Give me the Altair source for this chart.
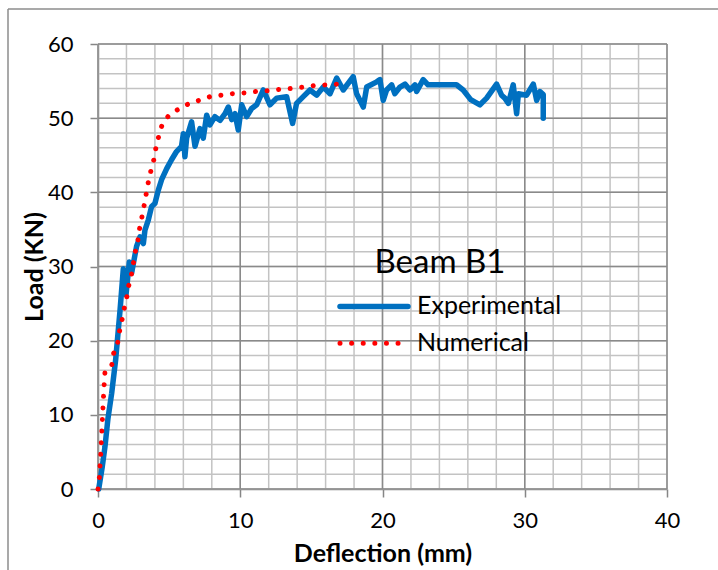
import altair as alt
import pandas as pd

# ---------------- data ----------------
exp_x = [0.05, 0.3, 0.49, 0.7, 0.96, 1.24, 1.55, 1.78, 1.97, 2.2, 2.36, 2.71, 2.95, 3.19, 3.3,
         3.54, 3.77, 4.0, 4.24, 4.47, 4.83, 5.17, 5.52, 5.87, 6.0, 6.11, 6.23, 6.58, 6.82, 7.17,
         7.4, 7.64, 7.87, 8.22, 8.58, 8.93, 9.16, 9.4, 9.63, 9.86, 10.1, 10.45, 10.8, 11.15, 11.62,
         12.09, 12.56, 13.26, 13.68, 13.96, 14.43, 14.9, 15.37, 15.84, 16.31, 16.78, 17.24, 17.94,
         18.18, 18.65, 18.89, 19.59, 19.82, 20.05, 20.29, 20.64, 20.87, 21.23, 21.58, 21.93, 22.28,
         22.4, 22.86, 23.2, 25.2, 25.67, 26.2, 26.85, 27.32, 28.02, 28.37, 28.6, 28.85, 29.19,
         29.43, 29.55, 30.13, 30.6, 30.84, 31.07, 31.3, 31.3]
exp_y = [0, 3, 5.7, 9.5, 12.9, 17.4, 24.1, 29.7, 26.2, 30.6, 29.1, 32.7, 34.0, 33.1, 34.9,
         36.3, 38.1, 38.5, 40.3, 41.7, 43.2, 44.4, 45.5, 46.2, 47.9, 44.8, 47.3, 49.5, 46.2, 48.6,
         47.3, 50.4, 49.1, 50.2, 49.7, 50.6, 51.5, 49.8, 50.6, 48.4, 51.8, 50.2, 51.3, 51.8, 53.8,
         51.8, 52.7, 52.9, 49.3, 52.0, 52.9, 53.8, 53.1, 54.2, 53.3, 55.4, 53.8, 55.6,
         53.3, 51.5, 54.2, 54.9, 55.2, 52.4, 53.8, 54.5, 53.3, 54.2, 54.6, 53.8, 54.5,
         53.6, 55.2, 54.5, 54.5, 53.8, 52.5, 51.8, 52.7, 54.6, 53.1, 52.7, 52.0, 54.5,
         50.6, 53.3, 53.1, 54.6, 52.4, 53.6, 53.2, 50.0]

num_x = [0, 0.1, 0.2, 0.3, 0.4, 0.49, 0.96, 1.08, 1.36, 1.48, 1.66, 1.8, 2.0, 2.13, 2.32, 2.48,
         2.6, 2.79, 2.9, 3.07, 3.23, 3.37, 3.54, 3.73, 3.94, 4.08, 4.29, 4.52, 4.99, 5.65, 6.34,
         7.1, 7.87, 8.65, 9.44, 10.28, 11.15, 11.97, 12.8, 13.6, 14.43, 15.25, 16.07, 16.9]
num_y = [0, 1.6, 5, 9, 13, 15.8, 16.6, 18.2, 19.4, 21, 22.5, 24, 25.6, 27.2, 28.6, 30.3,
         31.8, 33.3, 34.9, 36.5, 38.1, 39.6, 41.4, 43.0, 44.5, 46.1, 47.7, 49.2, 50.4, 51.2, 51.9,
         52.4, 52.9, 53.1, 53.3, 53.4, 53.6, 53.7, 53.9, 54.0, 54.2, 54.4, 54.5, 54.6]

x_ticks = [0, 10, 20, 30, 40]
y_ticks = [0, 10, 20, 30, 40, 50, 60]
x_minor = list(range(0, 41, 2))
y_minor = list(range(0, 61, 2))

legend_title = ["Beam B1"]
series_names = ["Experimental", "Numerical"]

# ---------------- styling ----------------
BLUE = "#0070C0"
RED = "#FF0000"
FONT = "Lato"
W, H = 569, 445
L0, T0 = 98, 44

xs = alt.Scale(domain=[0, 40], nice=False, zero=False)
ys = alt.Scale(domain=[0, 60], nice=False, zero=False)

x_axis = alt.Axis(values=x_ticks, grid=False, domainColor="#868686", domainWidth=1.5,
                  tickColor="#868686", tickSize=8, tickWidth=1.5,
                  labelFont=FONT, labelFontSize=22, labelColor="black", labelPadding=13,
                  labelFlush=False,
                  title="Deflection (mm)", titleFont=FONT, titleFontSize=25,
                  titleFontWeight="bold", titleColor="black",
                  titleY=72, titleBaseline="alphabetic")
y_axis = alt.Axis(values=y_ticks, grid=False, domainColor="#868686", domainWidth=1.5,
                  tickColor="#868686", tickSize=8, tickWidth=1.5,
                  labelFont=FONT, labelFontSize=22, labelColor="black", labelPadding=17,
                  labelFlush=False,
                  title="Load (KN)", titleFont=FONT, titleFontSize=25,
                  titleFontWeight="bold", titleColor="black",
                  titleX=-56, titleAngle=-90, titleBaseline="alphabetic")


def X(field="x"):
    return alt.X(f"{field}:Q", scale=xs, axis=x_axis)


def Y(field="y"):
    return alt.Y(f"{field}:Q", scale=ys, axis=y_axis)


exp_df = pd.DataFrame({"x": exp_x, "y": exp_y, "i": range(len(exp_x))})
num_df = pd.DataFrame({"x": num_x, "y": num_y, "i": range(len(num_x))})

minor_v = alt.Chart(pd.DataFrame({"x": x_minor})).mark_rule(
    color="#c3c3c3", strokeWidth=1.5).encode(x=X())
minor_h = alt.Chart(pd.DataFrame({"y": y_minor})).mark_rule(
    color="#c3c3c3", strokeWidth=1.5).encode(y=Y())
major_v = alt.Chart(pd.DataFrame({"x": x_ticks})).mark_rule(
    color="#8a8a8a", strokeWidth=1.5).encode(x=X())
major_h = alt.Chart(pd.DataFrame({"y": y_ticks})).mark_rule(
    color="#8a8a8a", strokeWidth=1.5).encode(y=Y())

exp_line = alt.Chart(exp_df).mark_line(
    color=BLUE, strokeWidth=5.5, strokeJoin="round", strokeCap="round").encode(
    x=X(), y=Y(), order="i:Q")

num_line = alt.Chart(num_df).mark_line(
    color=RED, strokeWidth=5, strokeDash=[0.01, 11.6], strokeCap="round").encode(
    x=X(), y=Y(), order="i:Q")

# ---------------- legend (inside plot) ----------------
leg_title = alt.Chart(pd.DataFrame({"t": legend_title})).mark_text(
    font=FONT, fontSize=33, align="center", baseline="middle", color="black").encode(
    text="t:N", x=alt.value(440 - L0), y=alt.value(263 - T0))

leg_exp_line = alt.Chart(pd.DataFrame({"t": [series_names[0]]})).mark_rule(
    color=BLUE, strokeWidth=5.5, strokeCap="round").encode(
    x=alt.value(340 - L0), x2=alt.value(408 - L0), y=alt.value(306.5 - T0))
leg_num_line = alt.Chart(pd.DataFrame({"t": [series_names[1]]})).mark_rule(
    color=RED, strokeWidth=5, strokeDash=[0.01, 11.6], strokeCap="round").encode(
    x=alt.value(340 - L0), x2=alt.value(403 - L0), y=alt.value(343.3 - T0))

leg_exp_text = alt.Chart(pd.DataFrame({"t": [series_names[0]]})).mark_text(
    font=FONT, fontSize=25, align="left", baseline="middle", color="black").encode(
    text="t:N", x=alt.value(417 - L0), y=alt.value(306 - T0))
leg_num_text = alt.Chart(pd.DataFrame({"t": [series_names[1]]})).mark_text(
    font=FONT, fontSize=25, align="left", baseline="middle", color="black").encode(
    text="t:N", x=alt.value(417 - L0), y=alt.value(343 - T0))

# ---------------- outer frame (top and left edges) ----------------
frame_top = alt.Chart(pd.DataFrame({"a": [0]})).mark_rule(
    color="#8c8c8c", strokeWidth=1.5).encode(
    x=alt.value(8 - L0), x2=alt.value(720 - L0), y=alt.value(9 - T0))
frame_left = alt.Chart(pd.DataFrame({"a": [0]})).mark_rule(
    color="#8c8c8c", strokeWidth=1.5).encode(
    x=alt.value(8 - L0), y=alt.value(9 - T0), y2=alt.value(572 - T0))

chart = alt.layer(
    minor_v, minor_h, major_v, major_h, exp_line, num_line,
    leg_title, leg_exp_line, leg_num_line, leg_exp_text, leg_num_text,
    frame_top, frame_left
).properties(
    width=W, height=H,
    autosize=alt.AutoSizeParams(type="none"),
    padding={"left": L0, "top": T0, "right": 718 - L0 - W, "bottom": 570 - T0 - H},
    background="white",
).configure_view(stroke=None)

chart.save("out.html", embed_options={"renderer": "svg", "actions": False})
